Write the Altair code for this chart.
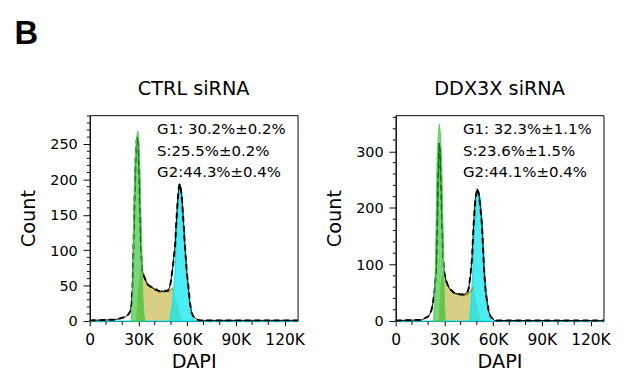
import altair as alt
import pandas as pd

# ---------------- data (DAPI in thousands, counts) ----------------
# CTRL siRNA
ctrl_total_x = [0, 16, 19, 22, 24, 25, 25.8, 26.4, 27, 27.7, 28.3, 28.9, 29.4, 29.9, 30.5, 31.1, 31.7,
                32.3, 33, 34, 35, 36, 38, 40, 42, 44, 46, 48, 49, 49.9, 50.9, 51.8, 52.5, 53.3, 54,
                54.7, 55.3, 56, 56.8, 57.8, 58.8, 59.8, 60.7, 61.7, 62.7, 63.7, 64.7, 66, 68, 128]
ctrl_total_y = [1, 2, 4, 6, 10, 14, 25, 53, 110, 180, 230, 256, 260, 250, 205, 140, 95,
                72, 66, 60, 54, 51, 48, 45, 43, 42, 42, 43, 46, 55, 72, 90, 104, 140, 165,
                186, 194, 188, 172, 137, 100, 69, 50, 26, 12, 7, 5, 2, 1, 1]
ctrl_g1_x = [25.5, 26.4, 27, 28, 29, 29.6, 30.2, 30.8, 31.6, 32.6, 33.4, 34.2]
ctrl_g1_y = [0, 31, 144, 228, 262, 269, 258, 225, 144, 40, 8, 0]
ctrl_s_x = [28.5, 30, 31.5, 32.5, 33.5, 34.5, 35.5, 36.5, 37.5, 38.5, 39.5, 40.5, 41.5, 42.5,
            43.5, 44.5, 45.5, 46.5, 47.5, 48.5, 49.5, 50.5, 51, 52, 53, 54, 55, 56, 57]
ctrl_s_y = [0, 50, 72, 68, 62, 58, 52, 50, 47, 48, 45, 44, 46, 41,
            40, 43, 41, 44, 42, 41, 43, 45, 47, 40, 32, 24, 16, 7, 0]
ctrl_g2_x = [0, 49.3, 50.9, 52.5, 53.8, 54.8, 55.8, 56.8, 57.8, 59.4, 61.4, 63.7, 65, 128]
ctrl_g2_y = [0, 0, 24, 69, 137, 180, 193, 180, 137, 69, 24, 3, 0, 0]
ctrl_lines = ["G1: 30.2%\u00b10.2%", "S:25.5%\u00b10.2%", "G2:44.3%\u00b10.4%"]

# DDX3X siRNA
ddx_total_x = [0, 16, 18, 20, 21, 22, 23, 24, 24.9, 25.5, 26.1, 26.8, 27.4, 28, 28.7, 29.3, 29.8,
               31, 32, 33, 34, 36, 38, 40, 42, 44, 45, 46, 47, 48, 49, 50.2, 51.2, 52.2, 53.1,
               54.5, 55.5, 56.5, 57.5, 58.5, 59.4, 61, 128]
ddx_total_y = [1, 2, 5, 8, 12, 19, 33, 55, 90, 160, 250, 315, 300, 235, 160, 110, 88,
               72, 64, 58, 55, 50, 48, 47, 47, 50, 58, 80, 110, 171, 215, 234, 225, 200, 171,
               86, 50, 30, 15, 8, 5, 1, 1]
ddx_g1_x = [23.3, 24, 24.6, 25.5, 26.4, 26.9, 27.4, 28.3, 29.1, 29.8, 30.5]
ddx_g1_y = [0, 40, 120, 290, 335, 348, 335, 290, 170, 60, 0]
ddx_s_x = [26.5, 27.5, 28.5, 29.8, 31, 32, 33, 34, 35, 36, 37, 38, 39, 40, 41, 42, 43, 44, 45,
           46, 47, 48, 49, 50, 51, 52.5]
ddx_s_y = [0, 60, 80, 82, 72, 65, 58, 55, 52, 50, 48, 47, 49, 46, 48, 45, 47, 46, 50,
           52, 56, 60, 45, 30, 16, 0]
ddx_g2_x = [0, 45.6, 46.6, 47.4, 48.6, 49.8, 51, 52.2, 53.5, 54.9, 55.5, 57.1, 58.5, 128]
ddx_g2_y = [0, 0, 40, 80, 160, 215, 230, 215, 165, 86, 58, 19, 0, 0]
ddx_lines = ["G1: 32.3%\u00b11.1%", "S:23.6%\u00b11.5%", "G2:44.1%\u00b10.4%"]

x_major = [0, 30, 60, 90, 120]
x_minor = [10, 20, 40, 50, 70, 80, 100, 110]
ctrl_y_major = [0, 50, 100, 150, 200, 250]
ctrl_y_minor = [10, 20, 30, 40, 60, 70, 80, 90, 110, 120, 130, 140, 160, 170, 180, 190,
                210, 220, 230, 240, 260, 270, 280, 290]
ddx_y_major = [0, 100, 200, 300]
ddx_y_minor = [20, 40, 60, 80, 120, 140, 160, 180, 220, 240, 260, 280, 320, 340, 360]

S_FILL = "#d8cf84"
S_LINE = "#9a941c"
G1_C = "#22bb22"
G2_C = "#10e6ee"

FONT = "DejaVu Sans"
LINE_Y = [20, 42, 64]


def df(xs, ys):
    return pd.DataFrame({"x": xs, "y": ys})


def panel(title, tx, ty, g1x, g1y, sx, sy, s_lo, s_hi, g2x, g2y, ymax, ymajor, yminor, lines):
    xscale = alt.Scale(domain=[0, 128], nice=False, zero=False)
    yscale = alt.Scale(domain=[0, ymax], nice=False)
    xaxis = alt.Axis(values=x_major, title="DAPI", tickSize=5, labelPadding=6, grid=False,
                     labelExpr="datum.value == 0 ? '0' : datum.value + 'K'",
                     labelFlush=False, labelOverlap=False, labelFontSize=16, titlePadding=5)
    yaxis = alt.Axis(values=ymajor, title="Count", tickSize=7, labelPadding=6, grid=False,
                     labelFlush=False, labelOverlap=False, labelFontSize=15, titlePadding=12)
    X = alt.X("x:Q", scale=xscale, axis=xaxis)
    Y = alt.Y("y:Q", scale=yscale, axis=yaxis)

    s_area = alt.Chart(df(sx, sy)).mark_area(fill=S_FILL, fillOpacity=1).encode(x=X, y=Y)
    g2_area = alt.Chart(df(g2x, g2y)).mark_area(
        fill=G2_C, fillOpacity=0.75, stroke=G2_C, strokeWidth=1.2).encode(x="x:Q", y="y:Q")
    s_line = alt.Chart(df(sx, sy)).transform_filter(
        f"datum.x >= {s_lo} && datum.x <= {s_hi}").mark_line(
        color=S_LINE, strokeWidth=1.3).encode(x="x:Q", y="y:Q")
    tot_solid = alt.Chart(df(tx, ty)).mark_line(color="black", strokeWidth=1).encode(x="x:Q", y="y:Q")
    tot_dash = alt.Chart(df(tx, ty)).mark_line(
        color="black", strokeWidth=2, strokeDash=[6, 4]).encode(x="x:Q", y="y:Q")
    g1_area = alt.Chart(df(g1x, g1y)).mark_area(
        fill=G1_C, fillOpacity=0.6, stroke="#55cc55", strokeWidth=1).encode(x="x:Q", y="y:Q")
    y_minor_ticks = alt.Chart(pd.DataFrame({"y": yminor})).mark_rule(
        color="black", strokeWidth=1).encode(y="y:Q", x=alt.value(-3), x2=alt.value(0))
    x_minor_ticks = alt.Chart(pd.DataFrame({"x": x_minor})).mark_rule(
        color="black", strokeWidth=1).encode(x="x:Q", y=alt.value(214), y2=alt.value(218))
    anns = [
        alt.Chart(pd.DataFrame({"t": [line]})).mark_text(
            align="left", baseline="alphabetic", font=FONT, fontSize=15.5,
            color="black").encode(x=alt.value(70), y=alt.value(ly), text="t:N")
        for line, ly in zip(lines, LINE_Y)
    ]

    return alt.layer(s_area, g2_area, s_line, tot_solid, tot_dash, g1_area,
                     y_minor_ticks, x_minor_ticks, *anns).properties(
        width=216, height=214,
        title=alt.Title(title, fontSize=20, font=FONT, fontWeight="normal", offset=17))


left = panel("CTRL siRNA", ctrl_total_x, ctrl_total_y, ctrl_g1_x, ctrl_g1_y, ctrl_s_x, ctrl_s_y,
             31.5, 51, ctrl_g2_x, ctrl_g2_y, 291, ctrl_y_major, ctrl_y_minor, ctrl_lines)
right = panel("DDX3X siRNA", ddx_total_x, ddx_total_y, ddx_g1_x, ddx_g1_y, ddx_s_x, ddx_s_y,
              29.8, 48, ddx_g2_x, ddx_g2_y, 364, ddx_y_major, ddx_y_minor, ddx_lines)

chart = alt.hconcat(left, right, spacing=19).properties(
    title=alt.Title("B", fontSize=34, font="Liberation Sans", fontWeight="bold", anchor="start",
                    dx=-4, offset=30),
    padding={"left": 6, "top": 2, "right": 5, "bottom": 5},
).configure_view(stroke="black", strokeWidth=1).configure_axis(
    labelFont=FONT, titleFont=FONT, titleFontSize=20, titleFontWeight="normal",
    labelColor="black", titleColor="black", domainColor="black", tickColor="black",
)

chart.save("out.html", embed_options={"renderer": "svg", "actions": False})
